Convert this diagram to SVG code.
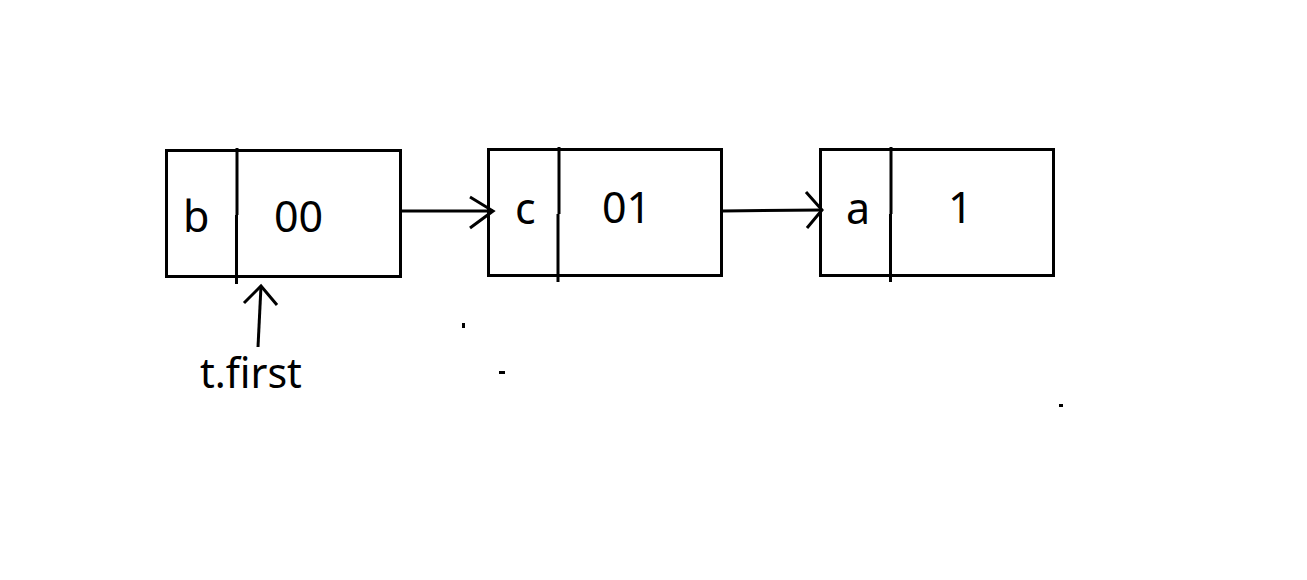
<svg xmlns="http://www.w3.org/2000/svg" width="1307" height="580" viewBox="0 0 1307 580">
<style>
.box{fill:none;stroke:#000;stroke-width:3}
.ln{fill:none;stroke:#000;stroke-width:3;stroke-linecap:butt;stroke-linejoin:miter}
.t{font-family:"Noto Sans","Open Sans",sans-serif;font-size:43px;fill:#000}
.dot{fill:#000}
</style>
<rect width="1307" height="580" fill="#fff"/>
<g id="node-b">
<rect class="box" x="166.5" y="150.5" width="234" height="126"/>
<line class="ln" x1="237" y1="148" x2="237" y2="215"/>
<line class="ln" x1="236.5" y1="215" x2="236.5" y2="284"/>
<text class="t" x="183" y="232">b</text>
<text class="t" x="274" y="232">00</text>
</g>
<g id="node-c">
<rect class="box" x="488.5" y="149.5" width="233" height="126"/>
<line class="ln" x1="559" y1="147" x2="559" y2="214"/>
<line class="ln" x1="558" y1="214" x2="558" y2="282"/>
<text class="t" x="515" y="224">c</text>
<text class="t" x="602" y="223">01</text>
</g>
<g id="node-a">
<rect class="box" x="820.5" y="149.5" width="233" height="126"/>
<line class="ln" x1="891" y1="147" x2="891" y2="214"/>
<line class="ln" x1="890.5" y1="214" x2="890.5" y2="282"/>
<text class="t" x="846" y="224">a</text>
<text class="t" x="948" y="223">1</text>
</g>
<g id="label-tfirst">
<text class="t" x="200" y="388" style="font-size:41px">t.first</text>
</g>
<g id="connectors">
<path class="ln" d="M400 211 L493 211"/>
<path class="ln" d="M470 197 L493 211 L470 228"/>
<path class="ln" d="M722 211 L822 210"/>
<path class="ln" d="M806 192 L822 210 L807 228"/>
<path class="ln" d="M258 347 L261 286"/>
<path class="ln" d="M244 303 L261 286 L277 305"/>
</g>
<rect class="dot" x="462" y="323" width="3" height="5"/>
<rect class="dot" x="499" y="371" width="6" height="3"/>
<rect class="dot" x="1059" y="404" width="4" height="3"/>
</svg>
